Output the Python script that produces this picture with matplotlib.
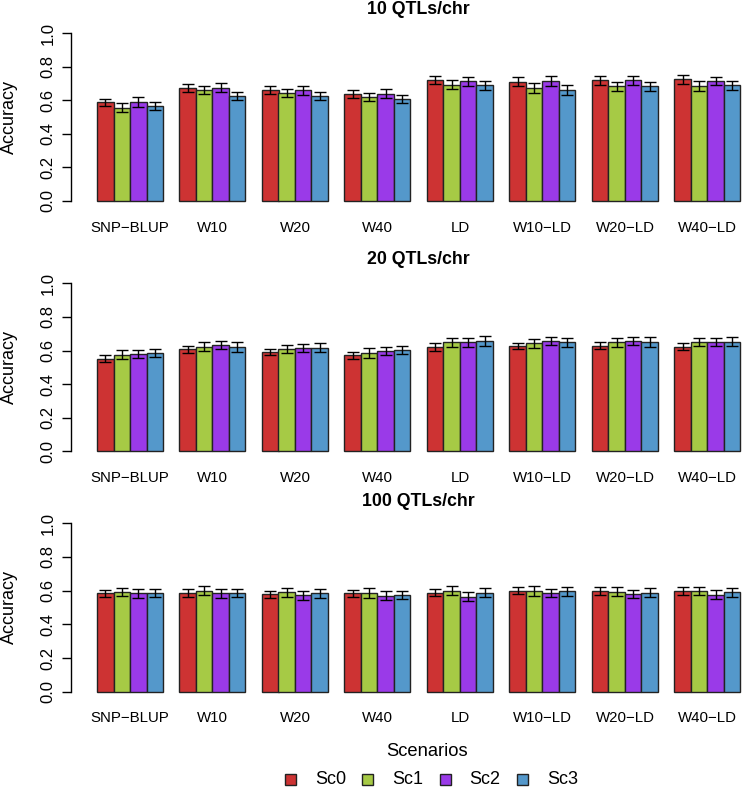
import matplotlib
matplotlib.use("Agg")
from matplotlib import pyplot as plt
from matplotlib.patches import Rectangle
import numpy as np

matplotlib.rc("font", family=["Liberation Sans", "DejaVu Sans"])

methods = ["SNP\u2212BLUP", "W10", "W20", "W40", "LD", "W10\u2212LD", "W20\u2212LD", "W40\u2212LD"]
scenarios = ["Sc0", "Sc1", "Sc2", "Sc3"]
colors = ["#CD3333", "#A6CA45", "#9A3AE8", "#5498CB"]
titles = ["10 QTLs/chr", "20 QTLs/chr", "100 QTLs/chr"]

# accuracy, rows = methods, cols = Sc0..Sc3
acc_10 = [[0.588, 0.556, 0.590, 0.566],
          [0.673, 0.663, 0.675, 0.625],
          [0.661, 0.645, 0.659, 0.625],
          [0.637, 0.621, 0.639, 0.608],
          [0.719, 0.693, 0.713, 0.689],
          [0.711, 0.675, 0.715, 0.663],
          [0.719, 0.683, 0.719, 0.683],
          [0.725, 0.687, 0.715, 0.689]]
err_10 = [[0.022, 0.025, 0.028, 0.024],
          [0.026, 0.024, 0.027, 0.026],
          [0.024, 0.024, 0.027, 0.024],
          [0.024, 0.024, 0.027, 0.024],
          [0.024, 0.027, 0.026, 0.026],
          [0.026, 0.030, 0.027, 0.030],
          [0.026, 0.028, 0.026, 0.028],
          [0.026, 0.030, 0.026, 0.028]]

acc_20 = [[0.552, 0.575, 0.580, 0.585],
          [0.607, 0.623, 0.633, 0.623],
          [0.591, 0.609, 0.617, 0.617],
          [0.571, 0.585, 0.599, 0.603],
          [0.621, 0.649, 0.649, 0.657],
          [0.627, 0.643, 0.657, 0.649],
          [0.629, 0.649, 0.657, 0.649],
          [0.623, 0.651, 0.653, 0.653]]
err_20 = [[0.020, 0.026, 0.022, 0.026],
          [0.020, 0.026, 0.022, 0.030],
          [0.020, 0.026, 0.024, 0.026],
          [0.020, 0.028, 0.024, 0.024],
          [0.022, 0.028, 0.026, 0.028],
          [0.020, 0.026, 0.026, 0.028],
          [0.020, 0.026, 0.026, 0.030],
          [0.020, 0.026, 0.024, 0.028]]

acc_100 = [[0.584, 0.592, 0.584, 0.586],
           [0.586, 0.600, 0.584, 0.586],
           [0.578, 0.590, 0.572, 0.584],
           [0.584, 0.586, 0.570, 0.574],
           [0.588, 0.600, 0.564, 0.588],
           [0.600, 0.600, 0.586, 0.596],
           [0.596, 0.594, 0.582, 0.588],
           [0.598, 0.598, 0.576, 0.590]]
err_100 = [[0.022, 0.026, 0.026, 0.026],
           [0.022, 0.028, 0.026, 0.026],
           [0.022, 0.026, 0.026, 0.026],
           [0.022, 0.028, 0.028, 0.026],
           [0.022, 0.026, 0.028, 0.026],
           [0.022, 0.030, 0.024, 0.026],
           [0.024, 0.028, 0.024, 0.026],
           [0.024, 0.026, 0.026, 0.026]]

panels = [(acc_10, err_10), (acc_20, err_20), (acc_100, err_100)]

W, H = 742, 788
fig = plt.figure(figsize=(W / 100, H / 100), dpi=100)

# pixel layout: (y of 1.0, y of 0.0, title y, xlabel y)
layout = [(33.3, 200.7, 9.5, 228), (283.3, 451.3, 259, 478), (523.3, 691.7, 501, 718)]
px_unit = 16.5
x0_px = 80.5  # pixel of bar-unit 0
ax_left = 71
xlim = ((ax_left - x0_px) / px_unit, (W - x0_px) / px_unit)

for (acc, err), (y1, y0, ty, ly), title in zip(panels, layout, titles):
    unit = y0 - y1
    top = y1 - 0.04 * unit
    bot = y0 + 0.04 * unit
    ax = fig.add_axes([ax_left / W, 1 - bot / H, (W - ax_left) / W, (bot - top) / H])
    acc = np.array(acc)
    err = np.array(err)
    for j in range(len(scenarios)):
        xs = 1.5 + 5 * np.arange(len(methods)) + j
        ax.bar(xs, acc[:, j], width=1, color=colors[j], edgecolor="#222222", linewidth=1.0)
        ax.errorbar(xs, acc[:, j], yerr=err[:, j], fmt="none", ecolor="black",
                    elinewidth=1.0, capsize=4.5, capthick=1.0)
    ax.set_xlim(*xlim)
    ax.set_ylim(-0.04, 1.04)
    for s in ["top", "right", "bottom"]:
        ax.spines[s].set_visible(False)
    ax.spines["left"].set_bounds(0, 1)
    ax.spines["left"].set_linewidth(1.0)
    ax.set_yticks(np.arange(0, 1.01, 0.2))
    ax.set_yticklabels(["%.1f" % v for v in np.arange(0, 1.01, 0.2)],
                       rotation=90, va="center", fontsize=12)
    ax.tick_params(axis="y", length=6.5, width=1.0, pad=4.5)
    ax.set_xticks([])
    for i, m in enumerate(methods):
        fig.text((x0_px + (3 + 5 * i) * px_unit) / W, 1 - ly / H, m,
                 ha="center", va="center", fontsize=10.8)
    fig.text(418.5 / W, 1 - ty / H, title, ha="center", va="center",
             fontsize=12.8, fontweight="bold")
    fig.text(9.7 / W, 1 - (y0 + y1) / 2 / H, "Accuracy", rotation=90,
             ha="center", va="center", fontsize=13)

# legend
fig.text(427.5 / W, 1 - 751 / H, "Scenarios", ha="center", va="center", fontsize=13.2)
leg_y = 779
for k, (name, c) in enumerate(zip(scenarios, colors)):
    sx = 285 + k * 77.3
    fig.add_artist(Rectangle(((sx) / W, 1 - (leg_y + 5.5) / H), 11 / W, 11 / H,
                             transform=fig.transFigure, facecolor=c,
                             edgecolor="#222222", linewidth=1.0))
    fig.text((sx + 30) / W, 1 - leg_y / H, name, ha="left", va="center", fontsize=13)

fig.savefig("out.png", dpi=100)
